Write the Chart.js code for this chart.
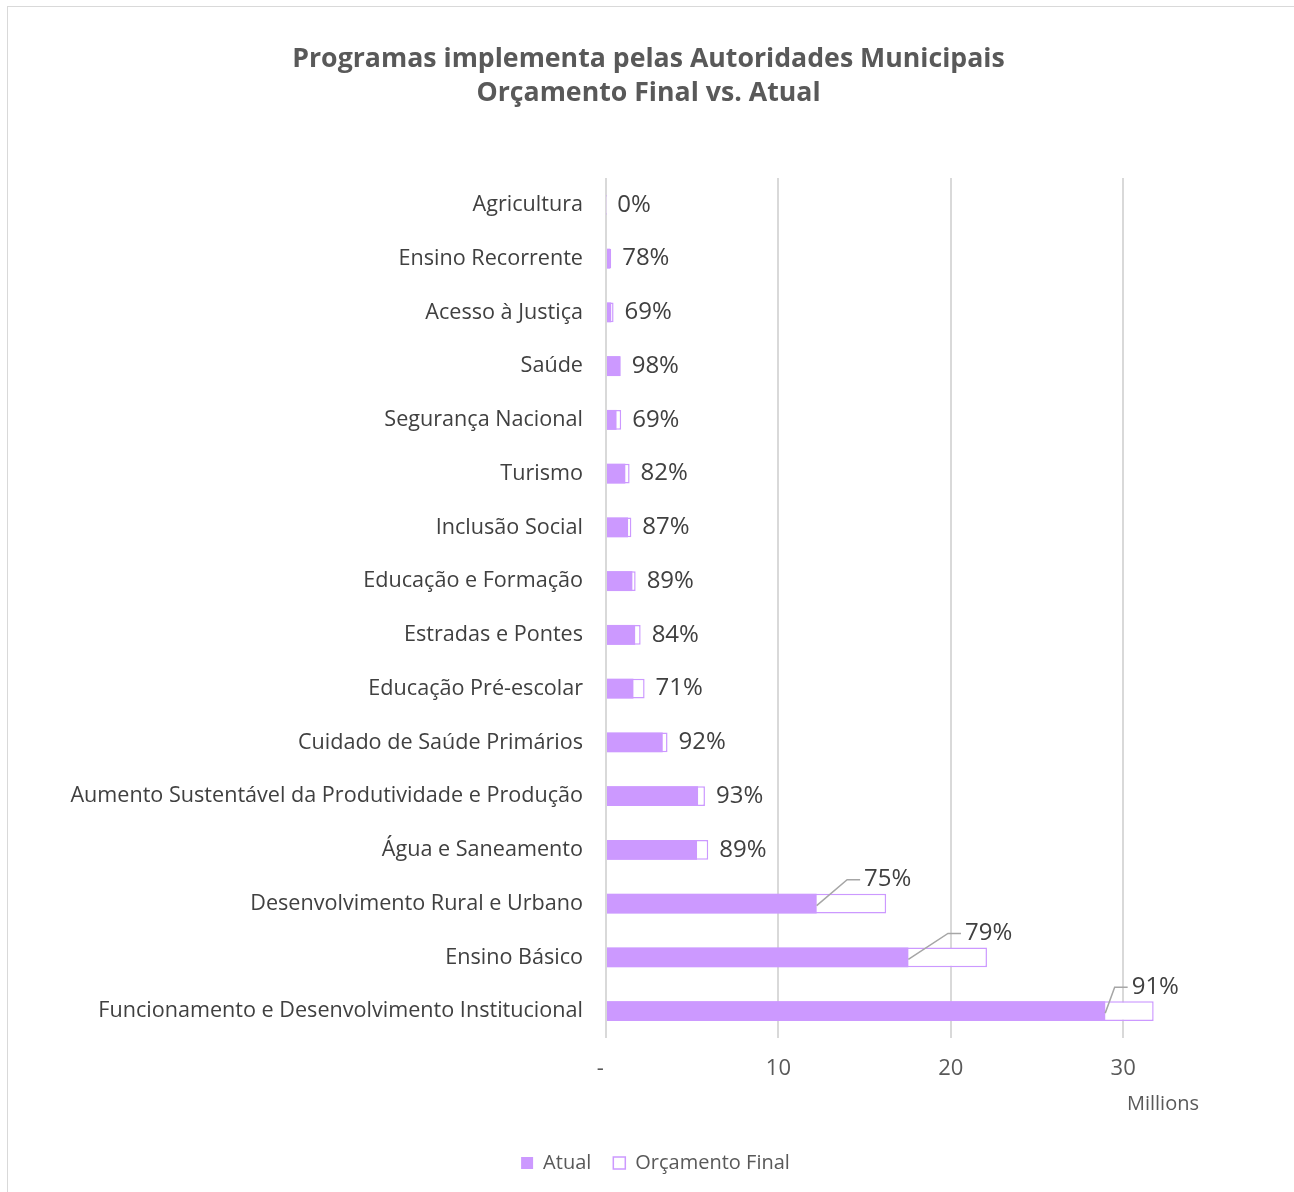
<!DOCTYPE html>
<html>
<head>
<meta charset="utf-8">
<script src="https://cdn.jsdelivr.net/npm/chart.js@4.4.0/dist/chart.umd.min.js"></script>
<style>
  body { margin: 0; background: #fff; }
  #frame { position: absolute; left: 7px; top: 6px; width: 1300px; height: 1200px; border: 1px solid #d9d9d9; pointer-events: none; }
  canvas { position: absolute; left: 0; top: 0; }
</style>
</head>
<body>
<div id="frame"></div>
<canvas id="chart" width="1294" height="1192"></canvas>
<script>
const FONT = '"Open Sans", Lato, sans-serif';

const titleLines = ['Programas implementa pelas Autoridades Municipais', 'Orçamento Final vs. Atual'];

const categories = [
  'Agricultura',
  'Ensino Recorrente',
  'Acesso à Justiça',
  'Saúde',
  'Segurança Nacional',
  'Turismo',
  'Inclusão Social',
  'Educação e Formação',
  'Estradas e Pontes',
  'Educação Pré-escolar',
  'Cuidado de Saúde Primários',
  'Aumento Sustentável da Produtividade e Produção',
  'Água e Saneamento',
  'Desenvolvimento Rural e Urbano',
  'Ensino Básico',
  'Funcionamento e Desenvolvimento Institucional'
];

// millions
const finalBudget = [0.02, 0.30, 0.44, 0.85, 0.88, 1.37, 1.47, 1.72, 2.01, 2.24, 3.57, 5.74, 5.93, 16.25, 22.10, 31.77];
const actual      = [0.00, 0.23, 0.30, 0.83, 0.61, 1.12, 1.28, 1.53, 1.69, 1.59, 3.29, 5.34, 5.28, 12.22, 17.54, 28.96];
const execPct     = [0, 78, 69, 98, 69, 82, 87, 89, 84, 71, 92, 93, 89, 75, 79, 91];

const xTicks = [0, 10, 20, 30];

const PURPLE = '#cc99ff';

// percentage labels, with leader lines on the long bars
const pctLabels = {
  id: 'pctLabels',
  afterLayout(chart) {
    // title and legend sit a bit right of the plot centre
    chart.titleBlock.left += 49;
    chart.titleBlock.right += 49;
    chart.legend.left += 56;
    chart.legend.right += 56;
  },
  afterDatasetsDraw(chart) {
    const { ctx, scales: { x, y } } = chart;
    ctx.save();
    ctx.font = '24px ' + FONT;
    ctx.fillStyle = '#404040';
    ctx.textAlign = 'left';
    ctx.textBaseline = 'middle';
    categories.forEach((c, i) => {
      const yc = y.getPixelForValue(i);
      const xe = x.getPixelForValue(finalBudget[i]);
      const text = execPct[i] + '%';
      if (finalBudget[i] > 10) {
        const xa = x.getPixelForValue(actual[i]);
        const lx = xe - 22;
        const ly = yc - 24;
        ctx.strokeStyle = '#a6a6a6';
        ctx.lineWidth = 1.5;
        ctx.beginPath();
        ctx.moveTo(xa, yc + 2);
        ctx.lineTo(lx - 17, ly);
        ctx.lineTo(lx - 4, ly);
        ctx.stroke();
        ctx.fillText(text, lx, ly);
      } else {
        ctx.fillText(text, xe + 11, yc);
      }
    });
    ctx.restore();
  }
};

new Chart(document.getElementById('chart'), {
  type: 'bar',
  data: {
    labels: categories,
    datasets: [
      {
        label: 'Atual',
        data: actual,
        backgroundColor: PURPLE,
        borderColor: PURPLE,
        borderWidth: 0,
        grouped: false,
        barPercentage: 0.37,
        categoryPercentage: 1
      },
      {
        label: 'Orçamento Final',
        data: finalBudget,
        backgroundColor: '#ffffff',
        borderColor: PURPLE,
        borderWidth: 1.5,
        grouped: false,
        barPercentage: 0.37,
        categoryPercentage: 1
      }
    ]
  },
  options: {
    indexAxis: 'y',
    responsive: false,
    animation: false,
    layout: { padding: { left: 0, right: 95, top: 0, bottom: 9 } },
    plugins: {
      tooltip: { enabled: false },
      title: {
        display: true,
        text: titleLines,
        color: '#595959',
        font: { family: FONT, size: 26.7, weight: 'bold', lineHeight: 34 / 26.7 },
        padding: { top: 42, bottom: 68 }
      },
      legend: {
        position: 'bottom',
        labels: {
          color: '#595959',
          font: { family: FONT, size: 20 },
          boxWidth: 12,
          boxHeight: 12,
          padding: 22
        }
      }
    },
    scales: {
      x: {
        min: 0,
        max: 34.4,
        grid: { color: '#d9d9d9', lineWidth: 2, drawTicks: false },
        border: { display: false },
        afterBuildTicks(scale) {
          scale.ticks = xTicks.map(v => ({ value: v }));
        },
        ticks: {
          color: '#595959',
          font: { family: FONT, size: 22 },
          padding: 18,
          callback: v => (v === 0 ? '-  ' : v)
        },
        title: {
          display: true,
          text: 'Millions',
          align: 'end',
          color: '#595959',
          font: { family: FONT, size: 20 },
          padding: { top: -8.4, bottom: 15 }
        }
      },
      y: {
        grid: { display: false, drawTicks: false },
        border: { display: false },
        afterFit(scale) { scale.width = 606; },
        ticks: {
          color: '#404040',
          font: { family: FONT, size: 21.6 },
          padding: 23,
          autoSkip: false
        }
      }
    }
  },
  plugins: [pctLabels]
});
</script>
</body>
</html>
